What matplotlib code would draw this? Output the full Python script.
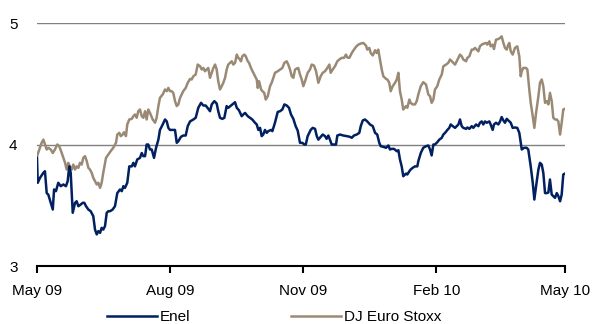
import matplotlib
matplotlib.use("Agg")
import matplotlib.pyplot as plt
import numpy as np
import pandas as pd

# days since 1 May 2009
start = pd.Timestamp("2009-05-01")

enel_days = [0, 0.5, 2.1, 4.4, 5.5, 6.7, 7.8, 9.5, 10.9, 11.8,
             13.1, 14.7, 16.4, 18.2, 20.0, 21.2, 22.3, 23.3, 24.7, 26.3,
             27.4, 28.6, 30.2, 31.6, 32.7, 33.9, 35.5, 37.1, 38.9, 40.1,
             41.3, 42.4, 43.6, 44.7, 45.8, 47.0, 48.2, 49.3, 50.5, 52.3,
             53.9, 55.5, 57.4, 58.6, 59.7, 60.8, 62.4, 63.8, 65.5, 66.6,
             67.7, 69.3, 71.2, 72.4, 73.5, 74.7, 75.8, 76.9, 78.1, 79.3,
             80.9, 82.3, 83.9, 85.0, 86.9, 88.5, 89.7, 90.8, 91.9, 93.5,
             95.4, 96.6, 97.7, 99.5, 101.1, 102.8, 104.2, 105.8, 108.1, 109.7,
             111.5, 113.4, 115.0, 116.6, 118.4, 119.6, 120.8, 122.6, 124.2, 125.3,
             126.5, 128.1, 129.5, 131.1, 132.2, 134.1, 135.7, 136.9, 138.1, 139.6,
             141.5, 142.6, 143.8, 145.7, 147.2, 148.8, 150.7, 151.9, 153.0, 154.2,
             155.3, 156.4, 157.6, 158.8, 159.9, 161.8, 162.7, 164.5, 166.4, 168.0,
             169.6, 171.0, 172.6, 174.2, 175.6, 177.2, 178.8, 180.2, 181.8, 183.4,
             184.8, 185.8, 187.1, 189.2, 190.6, 192.2, 193.4, 194.5, 195.6, 197.5,
             199.1, 200.2, 201.4, 202.5, 203.7, 204.8, 206.7, 207.6, 209.5, 211.7,
             214.1, 216.4, 217.6, 219.1, 221.0, 222.8, 223.8, 225.2, 226.7, 228.3,
             230.2, 232.1, 233.7, 235.2, 236.6, 237.6, 239.4, 241.3, 242.9, 244.0,
             245.2, 246.8, 248.7, 249.8, 250.9, 252.1, 253.2, 255.1, 256.0, 257.4,
             258.3, 259.7, 261.3, 262.9, 263.6, 265.3, 267.0, 268.9, 270.5, 271.7,
             272.8, 274.0, 275.1, 276.7, 278.1, 279.8, 280.9, 282.1, 283.7, 285.0,
             286.0, 287.4, 289.0, 290.1, 291.3, 292.4, 293.6, 294.7, 296.6, 297.5,
             298.9, 300.5, 301.6, 303.5, 305.1, 306.2, 307.4, 308.5, 309.7, 310.9,
             312.7, 313.6, 315.0, 315.9, 317.3, 318.9, 320.1, 321.2, 322.4, 323.5,
             324.7, 326.5, 327.5, 328.8, 330.4, 332.0, 333.4, 334.4, 335.1, 336.7,
             338.5, 339.6, 340.3, 341.3, 342.7, 343.8, 345.0, 346.6, 347.7, 348.9,
             350.0, 351.2, 352.4, 353.5, 354.6, 355.8, 356.9, 358.1, 359.3, 360.4,
             361.6, 362.7, 363.8, 365.0]
enel = [3.89, 3.685, 3.726, 3.767, 3.78, 3.60, 3.588, 3.52, 3.465, 3.63,
        3.616, 3.685, 3.657, 3.671, 3.657, 3.698, 3.82, 3.767, 3.438, 3.52,
        3.533, 3.492, 3.506, 3.52, 3.52, 3.492, 3.465, 3.451, 3.41, 3.30,
        3.26, 3.287, 3.273, 3.314, 3.30, 3.328, 3.438, 3.451, 3.451, 3.465,
        3.492, 3.60, 3.63, 3.616, 3.657, 3.643, 3.685, 3.82, 3.82, 3.849,
        3.82, 3.877, 3.89, 3.93, 3.904, 3.904, 4.0, 4.0, 3.959, 3.959,
        3.89, 3.973, 4.04, 4.12, 4.165, 4.206, 4.19, 4.137, 4.12, 4.12,
        4.12, 4.014, 4.027, 4.063, 4.074, 4.074, 4.151, 4.19, 4.206, 4.22,
        4.302, 4.343, 4.321, 4.321, 4.294, 4.274, 4.33, 4.357, 4.337, 4.274,
        4.22, 4.211, 4.22, 4.316, 4.302, 4.321, 4.337, 4.348, 4.302, 4.282,
        4.233, 4.247, 4.26, 4.233, 4.22, 4.206, 4.179, 4.165, 4.12, 4.137,
        4.069, 4.082, 4.12, 4.096, 4.11, 4.12, 4.11, 4.179, 4.268, 4.274,
        4.288, 4.33, 4.321, 4.302, 4.247, 4.211, 4.151, 4.115, 4.014, 4.014,
        4.0, 4.0, 4.069, 4.12, 4.137, 4.129, 4.069, 4.04, 4.055, 4.082,
        4.069, 4.047, 4.074, 4.04, 4.0, 4.0, 4.0, 4.074, 4.082, 4.074,
        4.069, 4.063, 4.055, 4.074, 4.082, 4.096, 4.151, 4.198, 4.206, 4.19,
        4.165, 4.151, 4.096, 4.082, 4.014, 3.986, 3.981, 3.973, 3.992, 3.959,
        3.964, 3.964, 3.945, 3.953, 3.877, 3.82, 3.739, 3.761, 3.753, 3.78,
        3.794, 3.808, 3.82, 3.82, 3.863, 3.93, 3.973, 3.986, 3.992, 3.959,
        3.91, 4.0, 4.0, 4.019, 4.04, 4.055, 4.082, 4.096, 4.12, 4.137,
        4.165, 4.151, 4.137, 4.151, 4.165, 4.206, 4.151, 4.137, 4.129, 4.14,
        4.129, 4.151, 4.137, 4.165, 4.151, 4.179, 4.19, 4.165, 4.19, 4.179,
        4.19, 4.165, 4.12, 4.165, 4.179, 4.165, 4.19, 4.226, 4.198, 4.179,
        4.211, 4.19, 4.179, 4.137, 4.14, 4.137, 4.096, 4.014, 3.959, 3.973,
        3.973, 3.959, 3.904, 3.82, 3.685, 3.547, 3.657, 3.794, 3.849, 3.835,
        3.767, 3.60, 3.60, 3.605, 3.712, 3.588, 3.575, 3.561, 3.60, 3.575,
        3.533, 3.588, 3.753, 3.761]

stoxx_days = [0, 1.6, 3.2, 4.4, 5.5, 6.7, 7.8, 9.5, 10.9, 12.4,
              14.0, 15.4, 17.1, 18.2, 19.4, 20.5, 21.6, 22.8, 24.0, 25.1,
              26.3, 27.4, 28.6, 29.7, 30.9, 32.0, 33.2, 34.4, 35.5, 36.6,
              37.8, 38.9, 40.1, 41.3, 42.4, 43.6, 44.7, 45.8, 47.7, 49.3,
              50.9, 52.7, 54.6, 55.5, 56.9, 57.9, 59.2, 60.1, 61.5, 62.4,
              63.8, 65.5, 66.6, 67.7, 68.9, 70.0, 71.2, 72.4, 73.5, 74.7,
              75.8, 76.9, 78.1, 80.0, 81.6, 82.7, 83.9, 85.0, 86.9, 88.5,
              89.7, 90.8, 91.9, 93.1, 94.2, 95.4, 96.6, 97.7, 98.9, 100.0,
              101.1, 102.8, 104.2, 105.8, 106.9, 108.1, 109.7, 111.1, 112.7, 113.9,
              115.0, 116.1, 117.3, 118.4, 119.6, 120.8, 121.9, 123.1, 124.2, 125.3,
              126.5, 127.7, 128.8, 130.0, 131.1, 132.2, 133.4, 134.6, 135.7, 136.9,
              138.1, 139.2, 140.3, 141.0, 141.9, 143.3, 144.3, 145.7, 146.6, 147.9,
              149.5, 150.7, 151.9, 152.6, 153.5, 154.9, 155.8, 157.1, 158.1, 159.5,
              161.1, 162.2, 163.4, 164.5, 166.4, 168.0, 169.6, 171.0, 172.6, 173.7,
              174.9, 176.1, 177.2, 178.4, 179.5, 180.6, 181.8, 183.0, 184.1, 185.3,
              187.1, 188.7, 189.9, 191.5, 192.9, 194.5, 196.1, 197.5, 199.1, 200.7,
              202.1, 203.0, 204.4, 206.0, 207.6, 209.0, 210.6, 212.2, 213.6, 214.5,
              215.9, 217.6, 219.1, 220.5, 222.1, 223.8, 225.6, 227.4, 228.3, 229.7,
              230.7, 232.1, 233.7, 234.8, 235.9, 237.1, 238.3, 239.4, 241.3, 242.2,
              243.5, 244.5, 245.9, 247.5, 248.7, 249.8, 250.9, 252.1, 253.2, 255.1,
              256.0, 257.4, 258.3, 259.7, 261.3, 262.5, 263.6, 265.3, 267.0, 268.9,
              270.5, 271.7, 272.8, 274.0, 275.1, 276.7, 278.1, 279.8, 280.9, 282.8,
              284.3, 285.5, 286.7, 287.8, 289.0, 290.1, 291.3, 292.4, 293.6, 294.7,
              296.6, 297.5, 298.9, 300.5, 301.6, 302.8, 304.0, 305.1, 306.2, 307.4,
              309.0, 310.4, 311.3, 312.7, 313.6, 315.0, 315.9, 317.3, 318.9, 320.1,
              321.2, 322.4, 323.5, 324.7, 325.8, 326.5, 327.5, 328.8, 330.4, 332.0,
              333.4, 334.4, 335.1, 336.2, 338.1, 339.0, 340.3, 341.3, 342.7, 343.8,
              345.0, 346.6, 347.7, 348.9, 350.0, 351.2, 352.4, 353.5, 354.6, 355.8,
              356.9, 358.1, 359.3, 360.4, 361.6, 362.7, 363.8, 365.0]
stoxx = [3.904, 3.959, 4.014, 4.04, 4.0, 3.959, 3.973, 3.959, 3.93, 3.959,
         4.0, 3.986, 3.93, 3.89, 3.849, 3.794, 3.849, 3.82, 3.794, 3.835,
         3.794, 3.82, 3.808, 3.849, 3.835, 3.89, 3.904, 3.863, 3.808, 3.794,
         3.767, 3.726, 3.698, 3.671, 3.685, 3.643, 3.685, 3.767, 3.89, 3.918,
         3.945, 3.973, 4.014, 4.082, 4.096, 4.069, 4.082, 4.101, 4.069, 4.165,
         4.206, 4.211, 4.233, 4.247, 4.22, 4.274, 4.288, 4.233, 4.22, 4.274,
         4.206, 4.288, 4.26, 4.206, 4.179, 4.22, 4.316, 4.384, 4.412, 4.453,
         4.439, 4.466, 4.439, 4.439, 4.425, 4.357, 4.316, 4.33, 4.384, 4.412,
         4.439, 4.466, 4.508, 4.54, 4.535, 4.562, 4.576, 4.658, 4.644, 4.617,
         4.63, 4.603, 4.617, 4.63, 4.549, 4.59, 4.63, 4.658, 4.617, 4.521,
         4.453, 4.48, 4.508, 4.549, 4.617, 4.658, 4.672, 4.685, 4.658, 4.672,
         4.74, 4.713, 4.70, 4.685, 4.726, 4.74, 4.726, 4.685, 4.672, 4.63,
         4.59, 4.562, 4.535, 4.466, 4.521, 4.453, 4.439, 4.425, 4.37, 4.397,
         4.48, 4.508, 4.549, 4.59, 4.603, 4.617, 4.63, 4.672, 4.685, 4.658,
         4.617, 4.562, 4.549, 4.617, 4.625, 4.63, 4.576, 4.535, 4.48, 4.521,
         4.59, 4.617, 4.658, 4.65, 4.603, 4.508, 4.562, 4.59, 4.603, 4.63,
         4.658, 4.59, 4.617, 4.644, 4.685, 4.70, 4.713, 4.713, 4.74, 4.716,
         4.713, 4.753, 4.781, 4.804, 4.822, 4.831, 4.836, 4.814, 4.781, 4.795,
         4.753, 4.733, 4.776, 4.753, 4.781, 4.70, 4.617, 4.562, 4.54, 4.535,
         4.508, 4.439, 4.48, 4.508, 4.535, 4.59, 4.439, 4.37, 4.288, 4.316,
         4.302, 4.37, 4.343, 4.33, 4.33, 4.357, 4.412, 4.48, 4.513, 4.494,
         4.412, 4.397, 4.343, 4.37, 4.453, 4.48, 4.535, 4.576, 4.644, 4.658,
         4.672, 4.70, 4.685, 4.672, 4.658, 4.685, 4.713, 4.74, 4.726, 4.70,
         4.685, 4.713, 4.726, 4.781, 4.781, 4.795, 4.781, 4.767, 4.808, 4.822,
         4.831, 4.836, 4.822, 4.849, 4.808, 4.822, 4.786, 4.863, 4.868, 4.877,
         4.89, 4.836, 4.795, 4.781, 4.822, 4.836, 4.767, 4.74, 4.795, 4.808,
         4.726, 4.562, 4.603, 4.63, 4.63, 4.617, 4.453, 4.343, 4.233, 4.137,
         4.26, 4.397, 4.508, 4.535, 4.48, 4.343, 4.357, 4.33, 4.425, 4.357,
         4.22, 4.206, 4.206, 4.19, 4.082, 4.179, 4.288, 4.294]

assert len(enel_days) == len(enel)
assert len(stoxx_days) == len(stoxx)

tick_dates = ["2009-05-01", "2009-08-01", "2009-11-01", "2010-02-01", "2010-05-01"]
tick_labels = ["May 09", "Aug 09", "Nov 09", "Feb 10", "May 10"]

ENEL_COL = "#002060"
STOXX_COL = "#9a8a75"

plt.rcParams["font.family"] = ["Liberation Sans", "DejaVu Sans"]

fig = plt.figure(figsize=(5.93, 3.24), dpi=100)
ax = fig.add_axes([0.0624, 0.179, 0.8904, 0.750])

enel_x = start + pd.to_timedelta(enel_days, unit="D")
stoxx_x = start + pd.to_timedelta(stoxx_days, unit="D")

# grey reference lines at 4 and 5
ax.axhline(5, color="#808080", linewidth=1.0, zorder=1)
ax.axhline(4, color="#808080", linewidth=1.0, zorder=1)

ax.plot(stoxx_x, stoxx, color=STOXX_COL, linewidth=1.8, label="DJ Euro Stoxx", zorder=2)
ax.plot(enel_x, enel, color=ENEL_COL, linewidth=1.8, label="Enel", zorder=3)

ax.set_xlim(pd.Timestamp(tick_dates[0]), pd.Timestamp(tick_dates[-1]))
ax.set_ylim(3, 5)
ax.set_yticks([3, 4, 5])
ax.set_yticklabels(["3", "4", "5"])
ax.set_xticks([pd.Timestamp(d) for d in tick_dates])
ax.set_xticklabels(tick_labels)

for side in ["top", "right", "left"]:
    ax.spines[side].set_visible(False)
ax.spines["bottom"].set_linewidth(1.5)
ax.spines["bottom"].set_color("black")

ax.tick_params(axis="y", length=0, pad=14, labelsize=11)
ax.tick_params(axis="x", direction="out", length=5, width=1.5, pad=8, labelsize=11)

handles, labels = ax.get_legend_handles_labels()
order = [1, 0]
fig.legend([handles[i] for i in order], [labels[i] for i in order],
           loc="center", bbox_to_anchor=(0.462, 0.022), ncol=2, frameon=False,
           fontsize=11, handlelength=3.3, handletextpad=0.15, columnspacing=6.6,
           borderaxespad=0)

fig.savefig("out.png", dpi=100)
